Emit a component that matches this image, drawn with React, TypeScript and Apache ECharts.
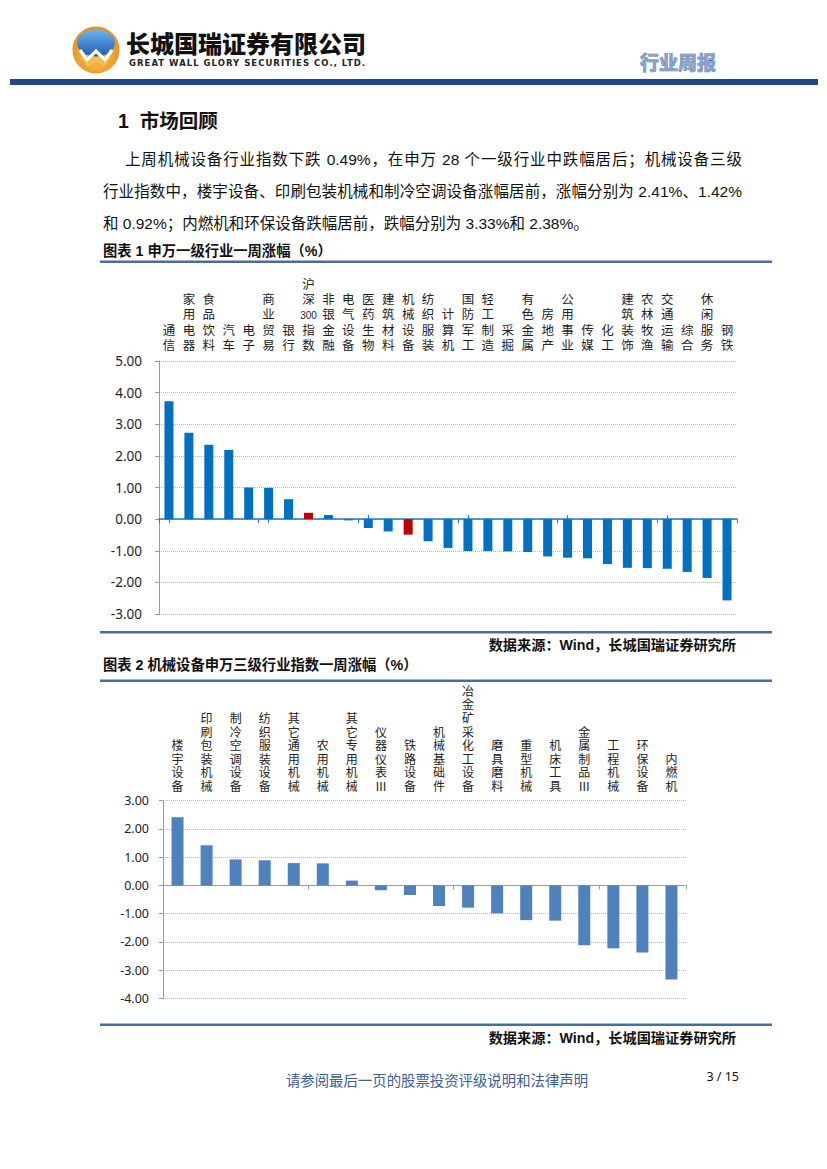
import React, { useEffect, useRef } from "react";
import * as echarts from "echarts";

const cats1 = ["通信", "家用电器", "食品饮料", "汽车", "电子", "商业贸易", "银行", "沪深300指数", "非银金融", "电气设备", "医药生物", "建筑材料", "机械设备", "纺织服装", "计算机", "国防军工", "轻工制造", "采掘", "有色金属", "房地产", "公用事业", "传媒", "化工", "建筑装饰", "农林牧渔", "交通运输", "综合", "休闲服务", "钢铁"];
const vals1 = [3.73, 2.73, 2.35, 2.19, 1.0, 0.99, 0.63, 0.2, 0.13, -0.04, -0.28, -0.39, -0.49, -0.7, -0.91, -1.01, -1.01, -1.02, -1.04, -1.18, -1.22, -1.24, -1.42, -1.54, -1.55, -1.57, -1.67, -1.86, -2.57];
const highlight1 = ["沪深300指数", "机械设备"];

const cats2 = ["楼宇设备", "印刷包装机械", "制冷空调设备", "纺织服装设备", "其它通用机械", "农用机械", "其它专用机械", "仪器仪表Ⅲ", "铁路设备", "机械基础件", "冶金矿采化工设备", "磨具磨料", "重型机械", "机床工具", "金属制品Ⅲ", "工程机械", "环保设备", "内燃机"];
const vals2 = [2.41, 1.42, 0.92, 0.89, 0.79, 0.78, 0.17, -0.17, -0.34, -0.73, -0.79, -0.99, -1.23, -1.25, -2.12, -2.23, -2.38, -3.33];

const yRange1 = [-3, 5];
const yRange2 = [-4, 3];

const companyName = "长城国瑞证券有限公司";
const companyEn = "GREAT WALL GLORY SECURITIES CO., LTD.";
const reportType = "行业周报";
const sectionTitle = "1  市场回顾";
const bodyLines = [
  "上周机械设备行业指数下跌 0.49%，在申万 28 个一级行业中跌幅居后；机械设备三级",
  "行业指数中，楼宇设备、印刷包装机械和制冷空调设备涨幅居前，涨幅分别为 2.41%、1.42%",
  "和 0.92%；内燃机和环保设备跌幅居前，跌幅分别为 3.33%和 2.38%。",
];
const title1 = "图表 1 申万一级行业一周涨幅（%）";
const title2 = "图表 2 机械设备申万三级行业指数一周涨幅（%）";
const sourceText = "数据来源：Wind，长城国瑞证券研究所";
const footerText = "请参阅最后一页的股票投资评级说明和法律声明";
const pageText = "3 / 15";

const CJK = "'Liberation Sans', 'Noto Sans CJK SC', sans-serif";
const NUM = "'Noto Sans', 'DejaVu Sans', sans-serif";

// each character on its own line; runs of digits stay together on one line
function vertical(s: string): string {
  const out: string[] = [];
  let digits = "";
  for (const ch of Array.from(s)) {
    if (/[0-9]/.test(ch)) {
      digits += ch;
    } else {
      if (digits) {
        out.push("{d|" + digits + "}");
        digits = "";
      }
      out.push(ch);
    }
  }
  if (digits) out.push("{d|" + digits + "}");
  return out.join("\n");
}

function buildOption(): any {
  const blue1 = "#1F77C9";
  const gridGray = "#b8b8b8";
  const axisGray = "#9a9a9a";

  const graphic: any[] = [
    // logo
    {
      type: "circle",
      shape: { cx: 96, cy: 50, r: 23.5 },
      style: {
        fill: new echarts.graphic.RadialGradient(0.5, 0.6, 0.6, [
          { offset: 0, color: "#FBC654" },
          { offset: 1, color: "#E48E1C" },
        ]),
      },
      silent: true,
    },
    {
      type: "ellipse",
      shape: { cx: 96, cy: 43, rx: 19, ry: 13.5 },
      style: {
        fill: new echarts.graphic.LinearGradient(0, 0, 0, 1, [
          { offset: 0, color: "#6DB3F0" },
          { offset: 1, color: "#1E5FAE" },
        ]),
      },
      silent: true,
    },
    {
      type: "polyline",
      shape: { points: [[80, 50], [87, 60], [96, 51], [105, 60], [112, 50]] },
      style: { stroke: "#ffffff", lineWidth: 3.2, fill: null },
      silent: true,
    },
    {
      type: "polyline",
      shape: { points: [[82, 57], [88, 65], [96, 58], [104, 65], [110, 57]] },
      style: { stroke: "#F7C35A", lineWidth: 2, fill: null },
      silent: true,
    },
    {
      type: "text",
      x: 126,
      y: 44,
      style: { text: companyName, fontSize: 24, fontWeight: 900, fill: "#111", fontFamily: CJK, textVerticalAlign: "middle", lineHeight: 26 },
      silent: true,
    },
    {
      type: "text",
      x: 640,
      y: 63,
      style: { text: reportType, fontSize: 19, fontWeight: "bold", fill: "#86A3CF", stroke: "#4C6C9C", lineWidth: 0.7, fontFamily: CJK, textVerticalAlign: "middle" },
      silent: true,
    },
    { type: "rect", shape: { x: 10, y: 79, width: 808, height: 6 }, style: { fill: "#21497E" }, silent: true },
    {
      type: "text",
      x: 118,
      y: 121,
      style: { text: sectionTitle, fontSize: 19.5, fontWeight: "bold", fill: "#111", fontFamily: CJK, textVerticalAlign: "middle" },
      silent: true,
    },
    // chart 1 frame
    {
      type: "text",
      x: 103,
      y: 251,
      style: { text: title1, fontSize: 14.3, fontWeight: "bold", fill: "#111", fontFamily: CJK, textVerticalAlign: "middle" },
      silent: true,
    },
    { type: "rect", shape: { x: 100, y: 260.5, width: 672, height: 2.5 }, style: { fill: "#4A6B9E" }, silent: true },
    { type: "rect", shape: { x: 100, y: 631, width: 672, height: 2.5 }, style: { fill: "#4A6B9E" }, silent: true },
    {
      type: "text",
      x: 736,
      y: 645,
      style: { text: sourceText, fontSize: 14.2, fontWeight: "bold", fill: "#111", fontFamily: CJK, textAlign: "right", textVerticalAlign: "middle" },
      silent: true,
    },
    // chart 2 frame
    {
      type: "text",
      x: 103,
      y: 665,
      style: { text: title2, fontSize: 14.3, fontWeight: "bold", fill: "#111", fontFamily: CJK, textVerticalAlign: "middle" },
      silent: true,
    },
    { type: "rect", shape: { x: 100, y: 679.5, width: 672, height: 2.5 }, style: { fill: "#4A6B9E" }, silent: true },
    { type: "rect", shape: { x: 100, y: 1023.5, width: 672, height: 2.5 }, style: { fill: "#4A6B9E" }, silent: true },
    {
      type: "text",
      x: 736,
      y: 1038,
      style: { text: sourceText, fontSize: 14.2, fontWeight: "bold", fill: "#111", fontFamily: CJK, textAlign: "right", textVerticalAlign: "middle" },
      silent: true,
    },
    // footer
    {
      type: "text",
      x: 437,
      y: 1081,
      style: { text: footerText, fontSize: 14.4, fill: "#3D5E96", fontFamily: CJK, textAlign: "center", textVerticalAlign: "middle" },
      silent: true,
    },
    {
      type: "text",
      x: 739,
      y: 1076,
      style: { text: pageText, fontSize: 12.5, fill: "#111", fontFamily: NUM, textAlign: "right", textVerticalAlign: "middle" },
      silent: true,
    },
  ];

  const labelAxis = (gridIndex: number, data: string[], fontSize: number, lineHeight: number, margin: number) => ({
    gridIndex,
    type: "category",
    data,
    position: "top",
    axisLine: { show: false, onZero: false },
    axisTick: { show: false },
    splitLine: { show: false },
    axisLabel: {
      show: true,
      interval: 0,
      margin,
      formatter: (v: string) => vertical(v),
      color: "#222",
      fontSize,
      lineHeight,
      fontFamily: CJK,
      rich: { d: { fontSize: 10, lineHeight, color: "#222", fontFamily: "'Liberation Sans', sans-serif" } },
    },
  });

  const zeroAxis = (gridIndex: number, data: string[], yIdx: number, position: string, showLine: boolean, center: boolean, color: string, width: number) => ({
    gridIndex,
    type: "category",
    data,
    position,
    axisLine: { show: showLine, onZero: true, onZeroAxisIndex: yIdx, lineStyle: { color, width } },
    axisTick: { show: true, alignWithLabel: center, length: 4, lineStyle: { color, width: 1 } },
    axisLabel: { show: false },
    splitLine: { show: false },
  });

  const valueAxis = (gridIndex: number, range: number[], fontSize: number, margin: number) => ({
    gridIndex,
    type: "value",
    min: range[0],
    max: range[1],
    interval: 1,
    axisLine: { show: true, lineStyle: { color: axisGray, width: 1 } },
    axisTick: { show: true, length: 4, lineStyle: { color: axisGray } },
    axisLabel: { formatter: (v: number) => v.toFixed(2), margin, fontSize, color: "#222", fontFamily: NUM },
    splitLine: { show: true, lineStyle: { type: "dotted", color: gridGray, width: 1 } },
  });

  return {
    animation: false,
    backgroundColor: "#ffffff",
    graphic,
    grid: [
      { left: 159, top: 361, width: 578, height: 253, outerBoundsMode: "none" },
      { left: 163, top: 800.7, width: 523, height: 197.6, outerBoundsMode: "none" },
    ],
    xAxis: [
      labelAxis(0, cats1, 12.5, 15.3, 7.5),
      zeroAxis(0, cats1, 0, "bottom", true, false, blue1, 1.5),
      zeroAxis(0, cats1, 0, "top", false, true, blue1, 1),
      zeroAxis(0, cats1, 0, "bottom", false, true, blue1, 1),
      labelAxis(1, cats2, 12, 13.6, 7),
      zeroAxis(1, cats2, 1, "bottom", true, false, axisGray, 1),
    ],
    yAxis: [valueAxis(0, yRange1, 13.5, 17), valueAxis(1, yRange2, 12.5, 14)],
    series: [
      {
        type: "bar",
        xAxisIndex: 0,
        yAxisIndex: 0,
        barWidth: 9,
        data: vals1.map((v, i) => ({
          value: v,
          itemStyle: { color: highlight1.includes(cats1[i]) ? "#C00000" : "#0070C0" },
        })),
      },
      {
        type: "bar",
        xAxisIndex: 4,
        yAxisIndex: 1,
        barWidth: 12,
        itemStyle: { color: "#4F81BD" },
        data: vals2,
      },
    ],
  };
}

export default function App() {
  const ref = useRef<HTMLDivElement>(null);
  useEffect(() => {
    if (!ref.current) return;
    const chart = echarts.init(ref.current, null, { renderer: "svg", width: 827, height: 1169 });
    chart.setOption(buildOption());
    return () => chart.dispose();
  }, []);

  const lineStyle = (left: number, top: number, width: number, justify: boolean): React.CSSProperties => ({
    position: "absolute",
    left,
    top,
    width,
    height: 22,
    lineHeight: "22px",
    fontSize: 15.5,
    fontFamily: CJK,
    color: "#111",
    textAlign: justify ? "justify" : "left",
    textAlignLast: justify ? "justify" : "left",
    whiteSpace: "normal",
    overflow: "hidden",
  });

  return (
    <div style={{ position: "absolute", left: 0, top: 0, width: 827, height: 1169, background: "#fff", overflow: "hidden" }}>
      <div ref={ref} style={{ position: "absolute", left: 0, top: 0, width: 827, height: 1169 }} />
      <div
        style={{
          position: "absolute",
          left: 129,
          top: 58,
          fontSize: 8.5,
          fontWeight: "bold",
          fontFamily: "'DejaVu Sans', sans-serif",
          letterSpacing: "1.02px",
          whiteSpace: "nowrap",
          color: "#222",
          lineHeight: "11px",
        }}
      >
        {companyEn}
      </div>
      <div style={lineStyle(125, 149, 617, true)}>{bodyLines[0]}</div>
      <div style={lineStyle(103, 181, 639, true)}>{bodyLines[1]}</div>
      <div style={lineStyle(103, 213, 639, false)}>{bodyLines[2]}</div>
    </div>
  );
}
